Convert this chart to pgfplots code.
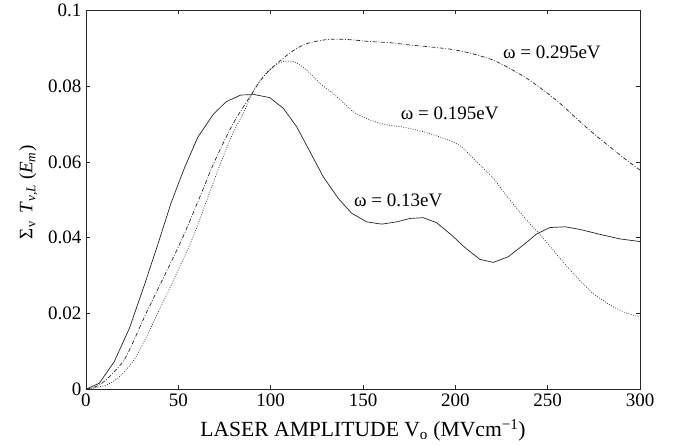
\documentclass[border=0pt]{standalone}
\usepackage{fontspec}
\setmainfont{Liberation Serif}
\usepackage{pgfplots}
\pgfplotsset{compat=1.18}
\begin{document}
\begin{tikzpicture}[font=\fontsize{19bp}{23bp}\selectfont]
\useasboundingbox (-86bp,-56.7bp) rectangle (593bp,389.3bp);
\begin{axis}[
  at={(0,0)}, anchor=south west,
  scale only axis, width=554bp, height=378.8bp,
  xmin=0, xmax=300, ymin=0, ymax=0.1,
  xtick={0,50,100,150,200,250,300},
  ytick={0,0.02,0.04,0.06,0.08,0.1},
  yticklabels={0,0.02,0.04,0.06,0.08,0.1},
  scaled y ticks=false,
  tick align=inside, xtick pos=both, ytick pos=both,
  major tick length=4bp,
  /pgf/number format/assume math mode=true,
  axis line style={line width=0.8bp, black!85},
  tick style={line width=0.6bp, black!85},
  xticklabel style={yshift=-1bp},
  yticklabel style={xshift=-1bp},
  xlabel={LASER AMPLITUDE V\textsubscript{o} (MVcm\textsuperscript{−1})},
  xlabel style={at={(axis description cs:0.5,-0.108)}, anchor=center, font=\fontsize{21.6bp}{25bp}\selectfont},
  ylabel={Σ\textsubscript{ν}\, \textit{T}\textsubscript{\textit{ν,L}}\ (\textit{E}\textsubscript{\textit{m}})},
  ylabel style={at={(axis description cs:-0.104,0.52)}, anchor=center, rotate=0},
  clip=true,
]
% omega = 0.13 eV (solid)
\addplot[line width=0.7bp, black!85] coordinates {
(0,0) (7.2,0.0016) (15.3,0.0073) (23.5,0.0161) (31.6,0.0275) (38.8,0.0381)
(46,0.0491) (53.2,0.0583) (60.5,0.0665) (68.6,0.0724) (75.8,0.0759)
(83.9,0.0777) (91.2,0.0778) (99.5,0.0770) (106.8,0.0742) (114.1,0.0693)
(121.3,0.0627) (128.5,0.0561) (136.6,0.0504) (143.8,0.0465) (152,0.0442)
(160.1,0.0436) (168.2,0.0442) (175.4,0.0451) (182.6,0.0453) (189.8,0.0440)
(198,0.0407) (205,0.0375) (213.3,0.0343) (220.5,0.0335) (228.7,0.0350)
(236.8,0.0381) (244,0.0410) (251.2,0.0427) (259.4,0.0429) (267.5,0.0422)
(278.3,0.0409) (289.2,0.0397) (300,0.0390)
};
% omega = 0.195 eV (dotted)
\addplot[line width=0.7bp, black!85, smooth, dash pattern=on 0.8bp off 1.6bp] coordinates {
(0,0) (10.8,0.0011) (18,0.0033) (27.1,0.0086) (38.8,0.0200) (48.5,0.0300)
(57.8,0.0400) (65.5,0.0500) (73.1,0.0600) (80,0.0680) (85.7,0.0734)
(89.4,0.0777) (95,0.0820) (101.4,0.0852) (106.8,0.0865) (110,0.0866)
(113.1,0.0864) (119.4,0.0843) (126.7,0.0808) (135.7,0.0773) (144.7,0.0733)
(151.9,0.0715) (160.9,0.0700) (171.8,0.0692) (182.6,0.0680) (193.4,0.0663)
(202.5,0.0643) (211.5,0.0601) (220.5,0.0557) (229.5,0.0500) (238.6,0.0447)
(247.6,0.0399) (256.6,0.0346) (265.6,0.0297) (274.6,0.0253) (283.7,0.0223)
(292.7,0.0201) (300,0.0192)
};
% omega = 0.295 eV (dash-dot)
\addplot[line width=0.7bp, black!85, smooth, dash pattern=on 4bp off 1.8bp on 0.8bp off 1.8bp] coordinates {
(0,0) (7.2,0.0011) (14.4,0.0042) (21.7,0.0086) (32.5,0.0200) (42.5,0.0300)
(52.3,0.0400) (61,0.0500) (69.5,0.0600) (79.5,0.0700) (89.4,0.0777)
(94.8,0.0817) (99.6,0.0843) (106.8,0.0874) (114.1,0.0900) (121.3,0.0915)
(132.1,0.0924) (142.9,0.0923) (153.8,0.0918) (164.6,0.0915) (175.4,0.0909)
(186.2,0.0904) (197,0.0898) (204,0.0892) (211.5,0.0883) (220.5,0.0869)
(229.5,0.0847) (238.6,0.0821) (247.6,0.0790) (256.6,0.0755) (265.6,0.0715)
(274.6,0.0676) (283.7,0.0640) (292.7,0.0605) (300,0.0579)
};
\node at (axis cs:252.3,0.0890) {ω = 0.295eV};
\node at (axis cs:197,0.0729) {ω = 0.195eV};
\node at (axis cs:169.1,0.0500) {ω = 0.13eV};
\end{axis}
\end{tikzpicture}
\end{document}
